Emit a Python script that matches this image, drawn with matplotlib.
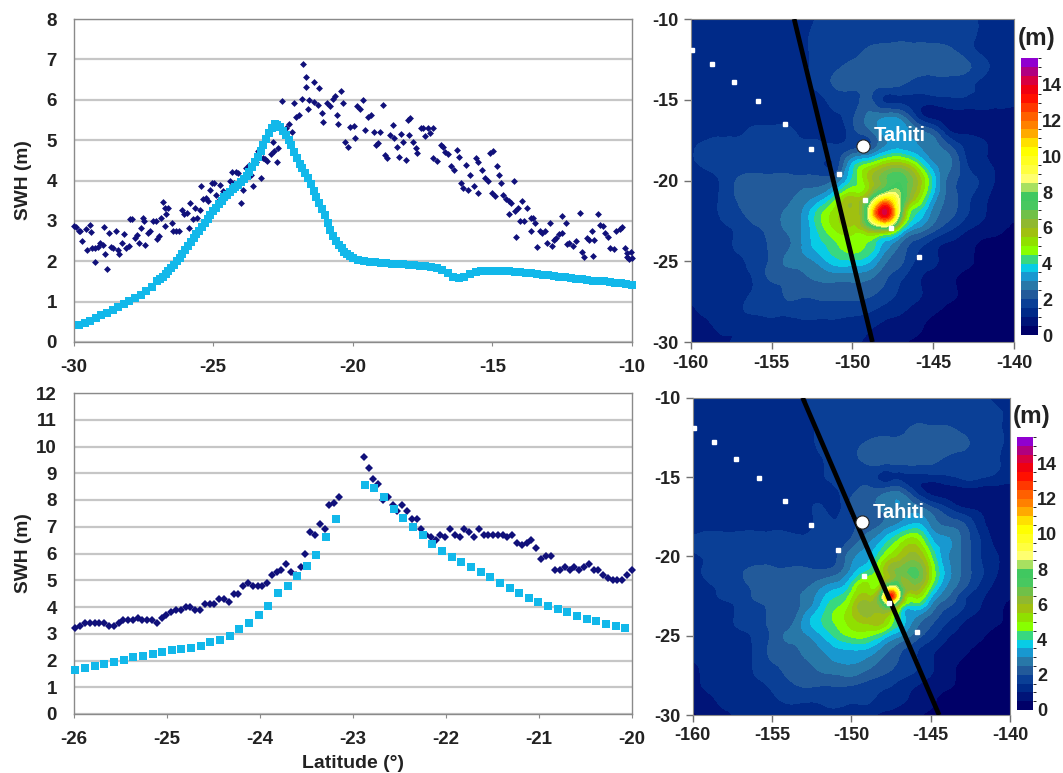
import numpy as np
from matplotlib import pyplot as plt
from matplotlib.colors import ListedColormap, BoundaryNorm
from matplotlib.tri import Triangulation, UniformTriRefiner

plt.rcParams["font.family"] = ["Liberation Sans", "DejaVu Sans"]
plt.rcParams["font.weight"] = "bold"
plt.rcParams["axes.unicode_minus"] = False

W, H = 1063, 773

# top left chart, altimeter
alt_lat_top = [-30.00,-29.90,-29.82,-29.75,-29.71,-29.56,-29.52,-29.42,-29.39,-29.34,-29.24,-29.24,-29.12,-29.05,-28.95,-28.90,-28.86,-28.79,-28.73,-28.65,
    -28.57,-28.49,-28.42,-28.36,-28.25,-28.20,-28.13,-28.03,-27.98,-27.91,-27.81,-27.73,-27.66,-27.59,-27.51,-27.49,-27.44,-27.34,-27.25,-27.15,
    -27.05,-27.00,-26.93,-26.86,-26.81,-26.74,-26.71,-26.67,-26.61,-26.49,-26.42,-26.32,-26.23,-26.13,-26.05,-25.94,-25.88,-25.83,-25.73,-25.64,
    -25.58,-25.47,-25.44,-25.35,-25.25,-25.18,-25.10,-25.03,-24.96,-24.91,-24.81,-24.74,-24.66,-24.59,-24.47,-24.40,-24.34,-24.27,-24.18,-24.12,
    -24.01,-23.93,-23.82,-23.71,-23.64,-23.57,-23.45,-23.39,-23.27,-23.20,-23.13,-23.06,-22.91,-22.87,-22.81,-22.72,-22.66,-22.54,-22.40,-22.28,
    -22.18,-22.11,-22.03,-21.92,-21.81,-21.78,-21.67,-21.67,-21.59,-21.55,-21.40,-21.40,-21.26,-21.20,-21.11,-21.05,-20.94,-20.82,-20.72,-20.64,
    -20.57,-20.53,-20.42,-20.35,-20.28,-20.18,-20.09,-19.97,-19.91,-19.84,-19.74,-19.65,-19.55,-19.47,-19.36,-19.25,-19.18,-19.11,-19.04,-18.93,
    -18.86,-18.77,-18.67,-18.57,-18.51,-18.42,-18.33,-18.27,-18.19,-18.09,-18.01,-17.97,-17.94,-17.84,-17.75,-17.69,-17.57,-17.50,-17.43,-17.31,
    -17.25,-17.13,-17.11,-16.99,-16.84,-16.77,-16.70,-16.58,-16.48,-16.37,-16.26,-16.18,-16.14,-16.04,-15.96,-15.89,-15.79,-15.67,-15.60,-15.53,
    -15.50,-15.38,-15.26,-15.16,-15.09,-15.01,-14.99,-14.91,-14.84,-14.77,-14.68,-14.62,-14.50,-14.40,-14.39,-14.33,-14.24,-14.18,-14.14,-14.09,
    -14.02,-13.95,-13.85,-13.77,-13.63,-13.63,-13.55,-13.48,-13.41,-13.30,-13.22,-13.11,-13.04,-12.92,-12.87,-12.78,-12.72,-12.60,-12.51,-12.49,
    -12.38,-12.31,-12.24,-12.12,-12.02,-11.87,-11.80,-11.73,-11.61,-11.53,-11.43,-11.39,-11.35,-11.21,-11.14,-11.05,-10.97,-10.85,-10.77,-10.66,
    -10.56,-10.44,-10.37,-10.26,-10.19,-10.19,-10.12,-10.03,-10.00]
alt_swh_top = [2.87,2.85,2.75,2.76,2.50,2.79,2.27,2.91,2.72,2.32,1.99,2.32,2.35,2.44,2.40,2.85,2.17,1.80,2.69,2.35,
    2.32,2.76,2.27,2.17,2.46,2.68,2.32,2.38,3.04,3.04,2.57,2.65,2.44,2.83,3.08,2.99,2.40,2.71,2.76,2.99,
    2.99,2.54,2.63,3.08,3.46,3.32,2.87,3.16,3.31,2.95,2.75,2.75,2.76,3.26,3.16,3.20,2.83,3.45,3.04,3.31,
    3.08,3.28,3.87,3.53,3.57,3.49,3.77,3.95,3.94,3.65,3.49,3.88,3.73,3.57,3.73,3.98,4.22,3.94,4.21,4.18,
    3.45,3.77,4.31,4.39,4.14,3.86,4.47,4.73,4.06,4.55,4.54,4.49,4.65,4.96,4.72,4.45,4.80,5.96,5.31,5.41,
    5.21,5.91,5.58,5.62,6.01,6.89,6.32,6.56,5.77,5.99,6.44,5.95,5.87,6.28,5.68,5.44,5.91,5.85,6.03,6.09,
    5.62,5.41,6.21,5.91,4.96,4.84,5.33,5.36,5.05,5.85,5.77,6.00,5.25,5.58,5.62,5.21,4.88,4.92,5.19,5.88,
    4.63,4.55,5.13,5.37,5.05,4.84,4.59,5.14,4.95,4.51,5.50,5.13,5.54,4.96,4.80,4.68,5.29,5.31,5.09,5.31,
    5.17,5.31,4.55,4.49,4.88,4.84,4.70,4.65,4.35,4.27,4.76,4.59,3.94,3.81,4.39,3.77,4.14,3.86,4.55,3.69,
    4.47,4.27,4.06,3.98,4.68,3.69,4.73,3.61,4.35,4.14,3.94,3.65,3.53,3.16,3.49,3.45,3.99,3.24,2.60,3.32,
    2.99,3.50,2.99,3.32,3.08,2.75,3.08,2.95,2.35,2.75,2.71,2.75,2.46,2.95,2.38,2.52,2.58,2.67,3.12,2.71,
    2.95,2.42,2.46,2.38,2.50,3.20,2.24,2.11,2.58,2.52,2.75,2.13,2.52,3.17,2.90,2.87,2.71,2.60,2.34,2.30,
    2.75,2.79,2.85,2.34,2.21,2.11,2.05,2.24,2.09]

# top left chart, model: every 0.2 deg on the flat ends, every 0.1 deg on the steep part
model_lat_top = np.concatenate([np.arange(14) * 0.2 - 29.8, np.arange(71) * 0.1 - 27.0, np.arange(50) * 0.2 - 19.8])
model_swh_top = [.42,.47,.53,.59,.66,.73,.79,.86,.93,1.01,1.09,1.17,1.26,1.37,
    1.50,1.56,1.62,1.69,1.76,1.83,1.91,2.00,2.09,2.19,2.29,2.38,2.48,2.57,2.67,2.76,2.85,2.95,3.04,3.14,3.24,3.33,3.42,3.50,3.58,3.65,
    3.72,3.78,3.84,3.90,3.96,4.04,4.12,4.22,4.33,4.45,4.58,4.72,4.87,5.02,5.17,5.30,5.40,5.38,5.32,5.23,5.12,5.00,4.87,4.71,4.55,4.42,
    4.30,4.18,4.06,3.91,3.75,3.60,3.45,3.30,3.15,2.95,2.78,2.63,2.50,2.40,2.32,2.24,2.18,2.12,2.08,
    2.03,2.00,1.99,1.97,1.96,1.95,1.94,1.93,1.92,1.91,
    1.90,1.89,1.87,1.85,1.83,1.78,1.71,1.62,1.58,1.62,1.68,1.73,1.75,1.76,1.76,1.76,1.75,1.75,1.74,1.73,
    1.72,1.70,1.69,1.67,1.66,1.64,1.62,1.60,1.58,1.57,1.55,1.54,1.52,1.51,1.50,1.48,1.46,1.45,1.43,1.42]

# bottom left chart, altimeter passes before and after the gap at -23
alt_swh_south = [3.2,3.3,3.4,3.4,3.4,3.4,3.4,3.3,3.3,3.4,3.5,3.5,3.5,3.6,3.5,3.5,3.5,3.4,3.6,3.7,3.8,3.9,3.9,4.0,4.0,3.9,3.9,4.1,
    4.1,4.1,4.3,4.3,4.2,4.5,4.5,4.8,4.9,4.8,4.8,4.8,4.9,5.2,5.3,5.4,5.6,5.3,5.2,5.5,6.0,6.8,6.7,7.1,6.9,7.8,7.9,8.1]
alt_swh_north = [9.6,9.2,8.8,8.6,8.0,8.1,7.8,7.6,7.8,7.6,7.3,7.3,6.9,6.7,6.6,6.5,6.7,6.6,6.9,6.7,6.6,6.9,6.8,6.6,6.9,6.7,6.7,6.7,6.7,
    6.7,6.6,6.7,6.4,6.3,6.4,6.5,6.2,5.8,5.9,5.9,5.4,5.4,5.5,5.4,5.5,5.4,5.5,5.6,5.4,5.4,5.2,5.1,5.0,5.0,5.0,5.2,5.4]
alt_lat_south = -25.98 + np.arange(len(alt_swh_south)) * 0.0515
alt_lat_north = -22.88 + np.arange(len(alt_swh_north)) * 0.0514

model_swh_south = [1.65,1.72,1.8,1.87,1.95,2.03,2.12,2.18,2.25,2.32,2.4,2.43,2.45,2.53,2.7,2.75,2.93,3.17,3.4,3.7,4.05,4.52,4.8,5.15,5.52,5.95,6.6,7.28]
model_swh_north = [8.55,8.43,8.1,7.65,7.33,7.0,6.7,6.35,6.1,5.87,5.68,5.5,5.32,5.12,4.9,4.72,4.53,4.35,4.2,4.05,3.93,3.8,3.67,3.57,3.47,3.38,3.3,3.2]
model_lat_south = -25.98 + np.arange(len(model_swh_south)) * 0.1036
model_lat_north = -22.87 + np.arange(len(model_swh_north)) * 0.1036

# maps
lons = np.arange(-160, -139)
lats = np.arange(-10, -31, -1)
swh_map_top = [
    [0.9,1.1,1.2,1.2,1.2,1.2,1.2,1.3,1.6,1.7,1.7,1.7,1.7,1.7,1.7,1.7,1.7,1.7,1.4,1.3,1.2],
    [1.2,1.2,1.2,1.2,1.2,1.2,1.3,1.4,1.7,1.7,1.7,1.7,1.7,1.8,1.8,1.8,1.8,1.7,1.4,1.3,1.2],
    [1.2,1.2,1.2,1.2,1.2,1.2,1.3,1.4,1.7,1.7,1.8,2.1,2.2,2.2,2.2,2.2,2.1,1.8,1.4,1.3,1.2],
    [1.2,1.2,1.2,1.2,1.2,1.2,1.2,1.4,1.7,1.9,2.2,2.2,2.2,2.2,2.2,2.2,2.2,2.1,1.7,1.3,1.2],
    [1.2,1.2,1.2,1.2,1.2,1.2,1.2,1.4,1.7,2.1,2.2,2.2,2.2,2.1,1.8,1.8,1.8,1.7,1.4,1.3,1.2],
    [1.2,1.2,1.2,1.2,1.2,1.2,1.2,1.3,1.4,1.7,1.8,2.1,1.4,1.4,1.3,1.3,1.4,1.4,1.4,1.3,1.2],
    [1.3,1.3,1.3,1.3,1.2,1.2,1.2,1.2,1.3,1.4,1.9,2.6,2.8,2.6,1.4,0.8,0.7,0.7,0.7,0.7,0.7],
    [1.3,1.3,1.4,1.4,1.7,1.7,1.7,1.3,1.2,1.1,1.8,2.3,3.2,3.3,2.7,2.2,1.1,0.9,0.8,0.7,0.6],
    [1.4,1.7,1.7,1.7,1.7,1.7,1.7,1.7,1.7,1.6,1.9,2.1,3.1,3.4,3.1,2.7,2.2,1.4,1.1,0.8,0.6],
    [1.4,1.6,1.7,1.7,1.7,1.7,1.7,1.7,1.6,1.7,3.6,4.6,5.5,5.8,4.6,3.1,2.6,1.6,1.1,0.9,0.6],
    [1.3,1.4,1.6,2.1,2.2,2.2,2.2,2.2,2.2,2.6,4.1,5.5,6.8,7.4,6.0,3.8,2.3,1.8,1.4,0.9,0.6],
    [1.2,1.4,1.6,2.1,2.2,2.3,2.4,2.7,3.1,4.3,5.5,6.3,9.5,8.0,5.5,3.4,2.3,1.7,1.2,0.8,0.6],
    [1.1,1.3,1.6,1.9,2.2,2.3,2.6,3.1,4.3,5.3,5.8,8.6,14.2,7.5,4.0,2.8,2.2,1.6,1.1,0.8,0.6],
    [1.1,1.2,1.4,1.6,1.9,2.2,2.6,3.1,4.2,5.1,5.3,6.2,7.0,4.3,2.9,2.2,1.6,1.1,0.8,0.6,0.4],
    [1.1,1.2,1.3,1.6,1.7,2.1,2.4,3.1,3.8,4.4,4.8,4.4,3.3,2.4,1.7,1.2,0.9,0.7,0.4,0.4,0.4],
    [1.1,1.1,1.2,1.4,1.7,2.1,2.6,2.8,3.2,3.8,3.9,3.6,2.6,2.1,1.4,1.1,0.8,0.6,0.4,0.4,0.4],
    [1.1,1.1,1.2,1.3,1.6,2.1,2.2,2.4,2.6,2.7,2.7,2.6,2.1,1.6,1.1,0.8,0.6,0.4,0.4,0.4,0.4],
    [1.1,1.1,1.1,1.2,1.6,1.7,2.1,2.1,2.2,2.2,2.2,2.1,1.8,1.4,1.1,0.8,0.6,0.4,0.4,0.4,0.4],
    [0.9,1.1,1.1,1.4,1.6,1.6,1.7,1.7,1.7,1.7,1.7,1.6,1.3,1.1,0.8,0.6,0.4,0.4,0.4,0.4,0.4],
    [0.7,0.9,1.1,1.1,1.2,1.3,1.3,1.4,1.4,1.4,1.3,1.1,0.9,0.8,0.6,0.4,0.4,0.4,0.4,0.4,0.4],
    [0.6,0.8,0.9,1.1,1.1,1.1,1.1,1.1,1.1,1.1,1.1,0.9,0.8,0.6,0.4,0.4,0.4,0.4,0.4,0.4,0.4],
]

# the second map has one more column and row through its peak
lons_bottom = [-160,-159,-158,-157,-156,-155,-154,-153,-152,-151,-150,-149,-148,-147.5,-147,-146,-145,-144,-143,-142,-141,-140]
lats_bottom = [-10,-11,-12,-13,-14,-15,-16,-17,-18,-19,-20,-21,-22,-22.5,-23,-24,-25,-26,-27,-28,-29,-30]
swh_map_bottom = [
    [0.9,1.2,1.2,1.2,1.2,1.2,1.2,1.4,1.7,1.7,1.7,1.7,1.7,1.7,1.7,1.7,1.7,1.7,1.7,1.7,1.4,1.3],
    [1.2,1.2,1.2,1.2,1.2,1.2,1.3,1.4,1.7,1.7,1.7,1.7,1.7,1.7,1.7,1.7,1.7,1.7,1.7,1.7,1.6,1.4],
    [1.2,1.2,1.2,1.2,1.2,1.2,1.2,1.3,1.6,1.7,1.7,1.8,1.9,1.9,1.9,2.1,2.1,2.1,1.9,1.8,1.6,1.4],
    [1.2,1.2,1.2,1.2,1.2,1.2,1.2,1.2,1.6,1.7,1.8,2.1,2.2,2.2,2.2,2.2,2.2,2.2,2.1,1.8,1.6,1.4],
    [1.2,1.2,1.2,1.2,1.2,1.2,1.2,1.2,1.4,1.7,1.8,2.1,2.2,2.2,2.2,2.2,2.1,1.9,1.8,1.7,1.6,1.3],
    [1.2,1.2,1.2,1.2,1.2,1.2,1.2,1.2,1.4,1.6,1.7,1.8,1.3,1.35,1.4,1.3,1.3,1.4,1.6,1.6,1.4,1.2],
    [1.2,1.2,1.2,1.2,1.2,1.2,1.2,1.2,1.3,1.4,1.9,2.2,2.4,2.6,2.6,1.6,0.9,0.8,0.7,0.7,0.7,0.7],
    [1.2,1.2,1.2,1.2,1.2,1.2,1.2,1.2,1.6,1.3,2.1,2.2,2.6,2.75,2.9,2.8,2.2,1.6,1.1,0.9,0.7,0.6],
    [1.2,1.3,1.3,1.3,1.3,1.3,1.3,1.3,1.6,1.6,1.9,2.1,2.6,2.85,3.1,3.6,2.9,2.4,2.1,1.3,0.8,0.6],
    [1.6,1.7,1.7,1.7,1.7,1.7,1.7,1.6,1.7,1.7,2.1,2.8,3.6,4.1,4.6,5.2,3.7,3.1,2.4,1.6,0.9,0.6],
    [1.4,1.6,1.7,1.7,1.7,1.7,1.8,1.8,1.7,1.9,2.8,3.3,4.6,5.2,5.6,6.2,4.6,3.1,2.4,1.6,1.1,0.7],
    [1.3,1.6,1.6,1.9,2.2,2.2,2.1,2.1,2.1,2.3,3.2,4.1,5.4,6.2,6.6,7.2,5.2,3.3,2.4,1.7,1.1,0.7],
    [1.2,1.4,1.6,1.8,2.1,2.2,2.2,2.4,2.9,3.4,4.3,5.2,6.6,9.5,7.8,6.2,4.4,2.9,2.1,1.4,0.9,0.7],
    [1.15,1.3,1.6,1.7,2.1,2.15,2.25,2.6,3.2,3.9,4.8,5.6,8.6,13.2,8.8,5.2,3.7,2.6,1.7,1.2,0.8,0.6],
    [1.1,1.2,1.4,1.6,1.9,2.1,2.3,2.6,3.4,4.3,5.2,6.2,7.2,8.8,6.2,4.3,3.1,2.2,1.6,1.1,0.7,0.4],
    [1.1,1.2,1.3,1.6,1.7,2.1,2.2,3.1,3.9,4.6,5.3,5.8,5.6,4.8,4.1,2.9,2.2,1.6,1.1,0.8,0.6,0.4],
    [1.1,1.1,1.2,1.4,1.6,2.1,2.6,2.9,3.4,4.1,4.6,4.6,3.9,3.4,3.1,2.3,1.7,1.1,0.8,0.6,0.4,0.4],
    [1.1,1.1,1.1,1.3,1.6,2.1,2.2,2.6,2.9,3.3,3.4,3.3,2.7,2.4,2.1,1.6,1.1,0.8,0.6,0.4,0.4,0.4],
    [0.9,1.1,1.1,1.2,1.6,1.9,2.1,2.3,2.6,2.8,2.9,2.6,2.2,2.05,1.9,1.6,1.1,0.7,0.4,0.4,0.4,0.4],
    [0.8,1.1,1.1,1.2,1.4,1.6,1.9,2.1,2.1,2.1,2.1,1.9,1.7,1.6,1.4,1.1,0.8,0.6,0.4,0.4,0.4,0.4],
    [0.7,0.9,1.1,1.1,1.2,1.4,1.6,1.6,1.6,1.7,1.6,1.6,1.3,1.2,1.1,0.9,0.6,0.4,0.4,0.4,0.4,0.4],
    [0.4,0.7,0.9,1.1,1.1,1.1,1.2,1.2,1.3,1.3,1.2,1.1,0.9,0.9,0.8,0.6,0.4,0.4,0.4,0.4,0.4,0.4],
]

island_lon = [-159.94,-158.68,-157.3,-155.81,-154.19,-152.54,-150.82,-149.2,-147.63,-145.86]
island_lat = [-11.92,-12.8,-13.88,-15.09,-16.49,-18.04,-19.59,-21.22,-22.95,-24.74]
tahiti_lon, tahiti_lat = -149.32, -17.86
track_top_lon, track_top_lat = [-153.6, -148.76], [-10, -30]
track_bottom_lon, track_bottom_lat = [-153.07, -144.47], [-10, -30]

levels = np.arange(0, 16, 0.5)
band_colors = ["#000068","#001478","#002a88","#0a3f96","#225a9a","#2878a8","#1898d0","#08cce6",
    "#38d880","#88ff00","#90e000","#a0c010","#90b830","#70c048","#48c860","#40c860","#a8e060",
    "#ffff70","#ffff40","#ffff20","#ffff00","#ffe000","#ffaa00","#ff8000","#ff6000","#ff3800",
    "#ff1000","#f00010","#d80040","#b00080","#9000d0"]
cmap = ListedColormap(band_colors)
norm = BoundaryNorm(levels, cmap.N)


def axes_px(x0, x1, y0, y1):
    # pixel box, y from the top of the image
    return fig.add_axes([x0 / W, 1 - y1 / H, (x1 - x0) / W, (y1 - y0) / H])


def line_panel(ax, xlim, ylim, yticks, xticks):
    ax.set_xlim(xlim)
    ax.set_ylim(ylim)
    ax.set_xticks(xticks)
    ax.set_yticks(yticks)
    ax.grid(axis="y", color="#c6c6c6", lw=1.6, zorder=0)
    ax.set_axisbelow(True)
    for s in ax.spines.values():
        s.set_color("#8a8a8a")
        s.set_linewidth(1)
    ax.tick_params(axis="y", length=0, labelsize=13.5, pad=12, colors="#222222")
    ax.tick_params(axis="x", length=3, color="#8a8a8a", labelsize=13.5, pad=9, labelcolor="#222222")
    ax.set_ylabel("SWH (m)", fontsize=13.8, fontweight="bold", color="#222222")
    ax.yaxis.set_label_coords((32 - 73.5) / (632 - 73.5), 0.5)


def map_panel(ax, cax, lon, lat, field, track_lon, track_lat, label_x, label_y):
    # smooth contour outlines from the read grid with the cubic refiner
    lon2d, lat2d = np.meshgrid(lon, lat)
    tri = Triangulation(lon2d.ravel(), lat2d.ravel())
    tri_fine, field_fine = UniformTriRefiner(tri).refine_field(np.array(field).ravel(), subdiv=3)
    field_fine = np.clip(field_fine, 0.05, 15.4)
    cs = ax.tricontourf(tri_fine, field_fine, levels=levels, cmap=cmap, norm=norm)
    ax.plot(track_lon, track_lat, color="black", lw=3.4, solid_capstyle="butt", zorder=3)
    ax.plot(island_lon, island_lat, ls="none", marker="s", ms=2.6, color="white", zorder=4)
    ax.plot(tahiti_lon, tahiti_lat, ls="none", marker="o", ms=9.5, mfc="white", mec="#222222", mew=0.8, zorder=5)
    ax.text(tahiti_lon + 0.66, tahiti_lat + 0.62, "Tahiti", color="white", fontsize=14.5, va="center", zorder=5)
    ax.set_xlim(-160, -140)
    ax.set_ylim(-30, -10)
    ax.set_xticks(range(-160, -139, 5))
    ax.set_yticks(range(-30, -9, 5))
    ax.tick_params(length=5, width=1, color="#707070", labelsize=13, pad=4, labelcolor="#222222")
    for s in ax.spines.values():
        s.set_color("#8a8a8a")
    cb = fig.colorbar(cs, cax=cax, ticks=range(0, 15, 2))
    cb.outline.set_visible(False)
    cb.ax.tick_params(length=0, labelsize=13, pad=3, labelcolor="#222222")
    fig.text(label_x / W, 1 - label_y / H, "(m)", fontsize=17.5, ha="center", va="center", color="#222222")


fig = plt.figure(figsize=(W / 100, H / 100), dpi=100)

ax1 = axes_px(73.5, 632, 19, 342)
line_panel(ax1, (-30, -10), (0, 8), range(0, 9), range(-30, -9, 5))
ax1.plot(alt_lat_top, alt_swh_top, ls="none", marker="D", ms=3.5, color="#10107a", mew=0, zorder=3, clip_on=False)
ax1.plot(model_lat_top, model_swh_top, ls="none", marker="s", ms=5.2, color="#12b8ea", mew=0, zorder=4, clip_on=False)

ax2 = axes_px(73.5, 632, 393, 714)
line_panel(ax2, (-26, -20), (0, 12), range(0, 13), range(-26, -19))
ax2.plot(alt_lat_south, alt_swh_south, ls="none", marker="D", ms=3.6, color="#10107a", mew=0, zorder=3, clip_on=False)
ax2.plot(alt_lat_north, alt_swh_north, ls="none", marker="D", ms=3.6, color="#10107a", mew=0, zorder=3, clip_on=False)
ax2.plot(model_lat_south, model_swh_south, ls="none", marker="s", ms=5.2, color="#12b8ea", mew=0, zorder=4, clip_on=False)
ax2.plot(model_lat_north, model_swh_north, ls="none", marker="s", ms=5.2, color="#12b8ea", mew=0, zorder=4, clip_on=False)
ax2.set_xlabel("Latitude (°)", fontsize=14, fontweight="bold", color="#222222", labelpad=5)

ax3 = axes_px(690.7, 1014, 19, 342)
cax3 = axes_px(1021, 1038, 58, 335)
map_panel(ax3, cax3, lons, lats, swh_map_top, track_top_lon, track_top_lat, 1037, 38)

ax4 = axes_px(692.7, 1010, 397.7, 715)
cax4 = axes_px(1017, 1033, 437, 710)
map_panel(ax4, cax4, lons_bottom, lats_bottom, swh_map_bottom, track_bottom_lon, track_bottom_lat, 1032, 417)

fig.savefig("out.png", dpi=100)
